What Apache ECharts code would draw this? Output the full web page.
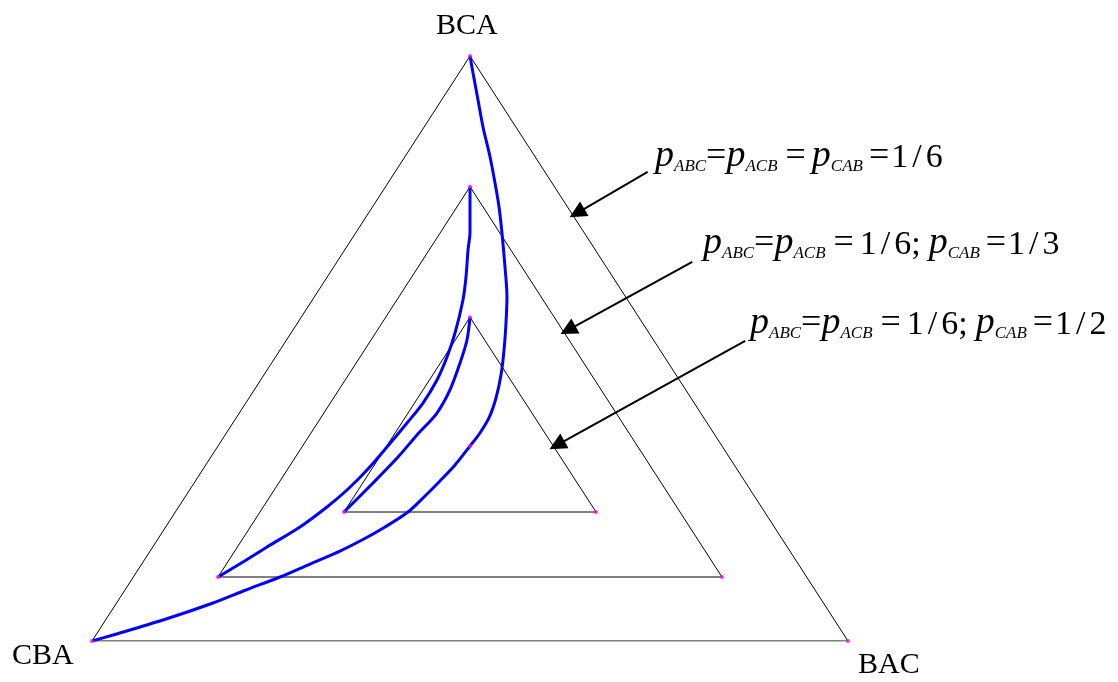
<!DOCTYPE html>
<html>
<head>
<meta charset="utf-8">
<script src="https://cdn.jsdelivr.net/npm/echarts@6/dist/echarts.min.js"></script>
<style>
  html, body { margin: 0; padding: 0; background: #fff; }
  #chart { width: 1118px; height: 682px; }
</style>
</head>
<body>
<div id="chart"></div>
<script>
// Simplex coordinates: CBA at (0,0), BAC at (100,0), BCA at (50,100)
const vertexNames = ['BCA', 'CBA', 'BAC'];

// Level triangles (closed outlines)
const outerTri = [[0, 0], [100, 0], [50, 100], [0, 0]];
const middleTri = [[16.67, 10.94], [83.33, 10.94], [50, 77.66], [16.67, 10.94]];
const innerTri = [[33.33, 22.05], [66.67, 22.05], [50, 55.33], [33.33, 22.05]];
const centrePoint = [[50, 33.33]];

// Paths between the two vertices of each level
const pathOuter = [
  [50, 100], [50.4, 97.09], [51.06, 92.48], [51.72, 87.86], [52.65, 82.74],
  [53.31, 78.29], [53.84, 74.19], [54.23, 69.74], [54.63, 63.93], [54.89, 58.8],
  [54.76, 54.36], [54.5, 49.74], [54.1, 45.47], [53.44, 41.54], [52.51, 38.12],
  [51.32, 35.56], [50, 33.33],
  [48.02, 30.09], [46.03, 27.35], [43.92, 24.62], [41.8, 22.05], [38.76, 19.49],
  [35.71, 17.26], [32.8, 15.38], [28.84, 13.16], [24.87, 10.94], [20.37, 8.72],
  [16.01, 6.5], [9.39, 3.59], [2.78, 1.03], [0, 0]
];
const pathMiddle = [
  [50, 77.66], [50, 69.91], [49.74, 66.84], [49.47, 62.22], [49.07, 58.29],
  [48.02, 52.65], [46.96, 48.55], [45.63, 44.62], [43.78, 40.68], [41.67, 37.26],
  [39.02, 33.16], [36.38, 29.23], [33.73, 25.81], [31.08, 22.91], [27.51, 19.49],
  [23.15, 16.07], [19.97, 13.5], [16.67, 10.94]
];
const pathInner = [
  [50, 55.33], [49.6, 51.45], [48.68, 47.52], [47.35, 42.91], [45.63, 38.97],
  [42.99, 35.21], [40.48, 31.45], [37.17, 27.01], [33.33, 22.05]
];

// Annotation arrows: [start, tip]
const arrows = [
  [[73.5, 80.2], [64.15, 73.16]],
  [[79.4, 64.8], [62.96, 53.16]],
  [[86.4, 51.3], [61.5, 33.5]]
];

// Annotation texts (rich-text markup)
const notes = [
  '{p|p}{s|ABC}{e|=}{p|p}{s|ACB}{e2|=}{p|p}{s|CAB}{e3|=}{d|1}{sl|/}{d|6}',
  '{p|p}{s|ABC}{e|=}{p|p}{s|ACB}{e2|=}{d|1}{sl|/}{d|6}{sc|;}{p|p}{s|CAB}{e3|=}{d|1}{sl|/}{d|3}',
  '{p|p}{s|ABC}{e|=}{p|p}{s|ACB}{e2|=}{d|1}{sl|/}{d|6}{sc|;}{p|p}{s|CAB}{e3|=}{d|1}{sl|/}{d|2}'
];

const serif = '"Liberation Serif", "Times New Roman", serif';

const chart = echarts.init(document.getElementById('chart'), null, { renderer: 'canvas' });

function outline(data) {
  return {
    type: 'line', data: data, symbol: 'none', silent: true,
    lineStyle: { color: '#000', width: 1 }, z: 2
  };
}
function path(data) {
  return {
    type: 'line', data: data, symbol: 'none', smooth: 0.3, silent: true,
    lineStyle: { color: '#0000ff', width: 3 }, z: 3
  };
}

const vertexDots = []
  .concat(outerTri.slice(0, 3), middleTri.slice(0, 3), innerTri.slice(0, 3), centrePoint);

const base = { fontFamily: serif, verticalAlign: 'bottom', fill: '#000' };
const richStyles = {
  p: Object.assign({}, base, { fontStyle: 'italic', fontSize: 38, lineHeight: 38 }),
  s: Object.assign({}, base, { fontStyle: 'italic', fontSize: 17, lineHeight: 10 }),
  e: Object.assign({}, base, { fontSize: 36, lineHeight: 36 }),
  e2: Object.assign({}, base, { fontSize: 36, lineHeight: 36, padding: [0, 6, 0, 8] }),
  e3: Object.assign({}, base, { fontSize: 36, lineHeight: 36, padding: [0, 2, 0, 6] }),
  d: Object.assign({}, base, { fontSize: 34, lineHeight: 34 }),
  sl: Object.assign({}, base, { fontSize: 34, lineHeight: 34, padding: [0, 4, 0, 4] }),
  sc: Object.assign({}, base, { fontSize: 34, lineHeight: 34, padding: [0, 8, 0, 0] })
};
const notePos = [[655, 175], [703, 262], [750, 342]];

const option = {
  backgroundColor: '#fff',
  animation: false,
  grid: { left: 92, top: 56, width: 756, height: 585 },
  xAxis: { type: 'value', min: 0, max: 100, show: false },
  yAxis: { type: 'value', min: 0, max: 100, show: false },
  series: [
    outline(outerTri), outline(middleTri), outline(innerTri),
    path(pathOuter), path(pathMiddle), path(pathInner),
    {
      type: 'scatter', data: vertexDots, symbolSize: 4, silent: true,
      itemStyle: { color: '#ff00ff' }, z: 4
    },
    {
      type: 'lines', coordinateSystem: 'cartesian2d', silent: true, z: 5,
      symbol: ['none', 'triangle'], symbolSize: [13, 17],
      lineStyle: { color: '#000', width: 2, opacity: 1 },
      itemStyle: { color: '#000' },
      data: arrows.map(a => ({ coords: a }))
    }
  ],
  graphic: [
    { type: 'text', left: 436, top: 11, style: { text: vertexNames[0], font: '30px ' + serif, fill: '#000' } },
    { type: 'text', left: 12, top: 641, style: { text: vertexNames[1], font: '30px ' + serif, fill: '#000' } },
    { type: 'text', left: 858, top: 650, style: { text: vertexNames[2], font: '30px ' + serif, fill: '#000' } }
  ].concat(notes.map((t, i) => ({
    type: 'text', x: notePos[i][0], y: notePos[i][1],
    style: { text: t, rich: richStyles, verticalAlign: 'bottom', align: 'left' }
  })))
};
chart.setOption(option);
</script>
</body>
</html>
